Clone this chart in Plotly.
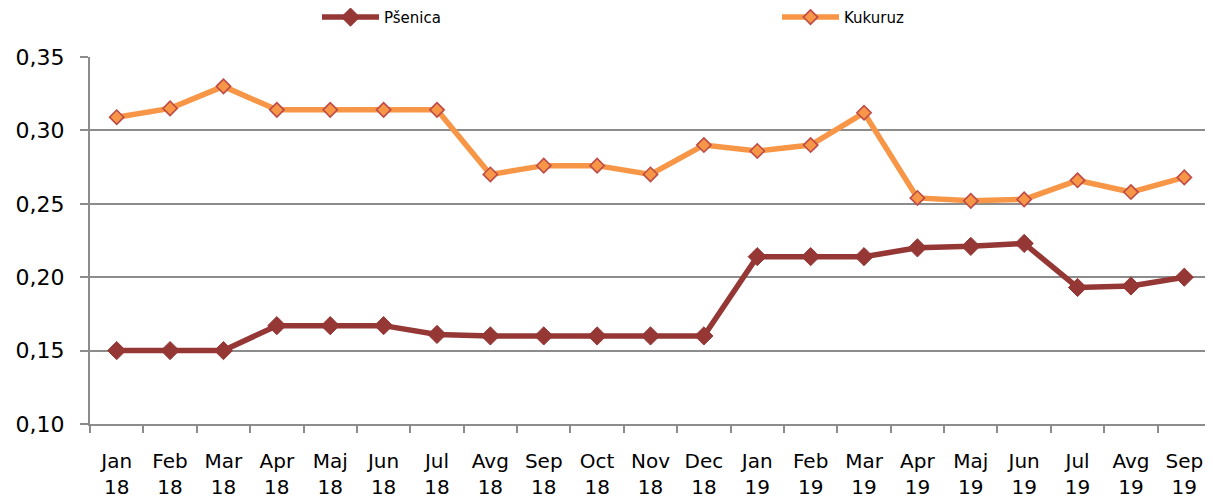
import plotly.graph_objects as go

months = ["Jan", "Feb", "Mar", "Apr", "Maj", "Jun", "Jul", "Avg", "Sep", "Oct", "Nov", "Dec",
          "Jan", "Feb", "Mar", "Apr", "Maj", "Jun", "Jul", "Avg", "Sep"]
years = ["18"] * 12 + ["19"] * 9
categories = [f"{m}<br>{y}" for m, y in zip(months, years)]

psenica = [0.150, 0.150, 0.150, 0.167, 0.167, 0.167, 0.161, 0.160, 0.160, 0.160, 0.160, 0.160,
           0.214, 0.214, 0.214, 0.220, 0.221, 0.223, 0.193, 0.194, 0.200]
kukuruz = [0.309, 0.315, 0.330, 0.314, 0.314, 0.314, 0.314, 0.270, 0.276, 0.276, 0.270, 0.290,
           0.286, 0.290, 0.312, 0.254, 0.252, 0.253, 0.266, 0.258, 0.268]

fig = go.Figure()
fig.add_trace(go.Scatter(
    x=categories, y=psenica, name="Pšenica", mode="lines+markers",
    line=dict(color="#953735", width=5.5),
    marker=dict(symbol="diamond", size=14, color="#953735", line=dict(color="#953735", width=1)),
))
fig.add_trace(go.Scatter(
    x=categories, y=kukuruz, name="Kukuruz", mode="lines+markers",
    line=dict(color="#F79646", width=5.5),
    marker=dict(symbol="diamond", size=11, color="#F79646", line=dict(color="#BE4B48", width=1.6)),
))

fig.update_layout(
    width=1205, height=496,
    margin=dict(l=82, r=2, t=49, b=80, autoexpand=False),
    plot_bgcolor="white", paper_bgcolor="white",
    separators=",.",
    font=dict(family="DejaVu Sans", color="#000000"),
    legend=dict(orientation="h", x=0.2025, y=1.108, xanchor="left", yanchor="middle",
                entrywidth=388, entrywidthmode="pixels", itemwidth=57,
                font=dict(family="DejaVu Sans", size=15), bgcolor="rgba(0,0,0,0)"),
    xaxis=dict(
        type="category", categoryorder="array", categoryarray=categories,
        range=[-0.5, 20.5], tickson="boundaries",
        showgrid=False, showline=True, linecolor="#8c8c8c", linewidth=2,
        ticks="outside", ticklen=7, tickcolor="#8c8c8c", tickwidth=1.5,
        tickfont=dict(size=20, family="DejaVu Sans"), ticklabelstandoff=18,
        zeroline=False, automargin=False,
    ),
    yaxis=dict(
        range=[0.10, 0.35], dtick=0.05, tick0=0.10, tickformat=".2f",
        showgrid=True, gridcolor="#8c8c8c", gridwidth=2,
        showline=True, linecolor="#8c8c8c", linewidth=2,
        ticks="outside", ticklen=8, tickcolor="#8c8c8c", tickwidth=2,
        tickfont=dict(size=22, family="DejaVu Sans"), ticklabelstandoff=11,
        zeroline=False, automargin=False,
    ),
)

fig.write_html("out.html")
